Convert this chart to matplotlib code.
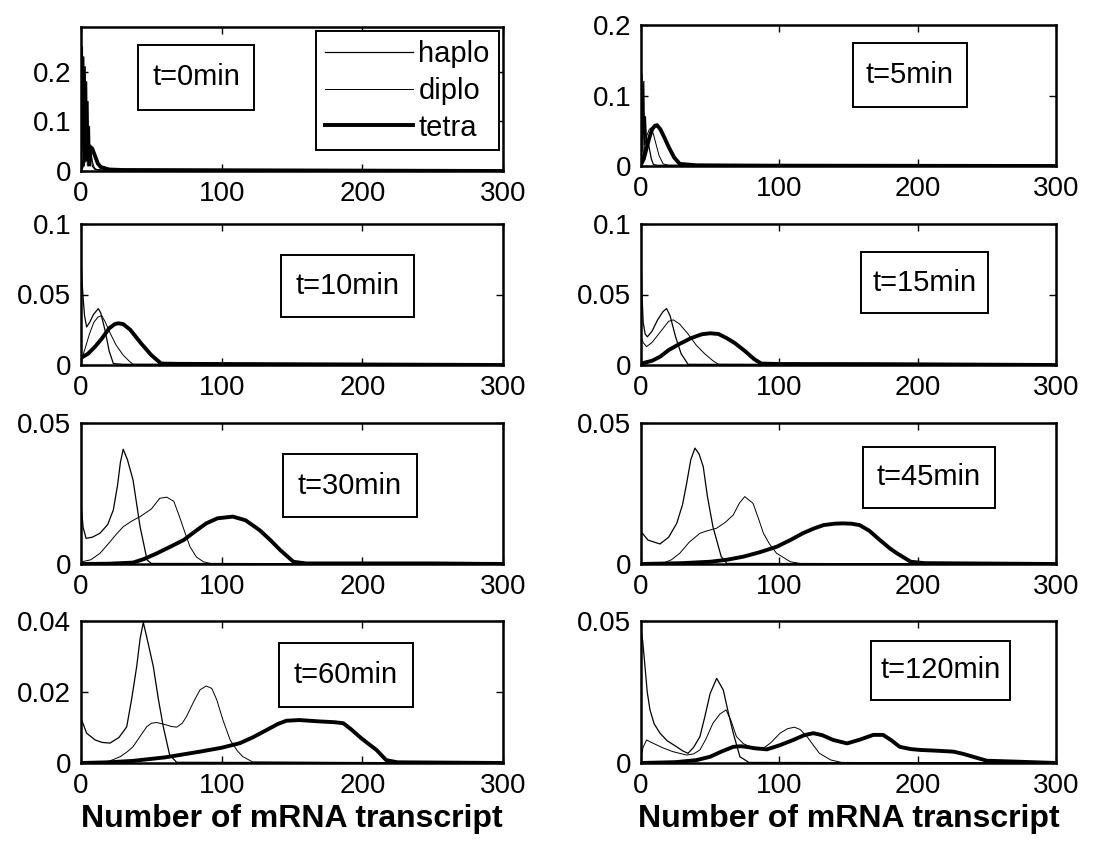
import matplotlib
matplotlib.use("Agg")
import matplotlib.pyplot as plt
from matplotlib.patches import Rectangle

plt.rcParams['font.family'] = ['Liberation Sans', 'DejaVu Sans']

# mRNA copy-number distributions, one panel per time point
times = ['t=0min', 't=5min', 't=10min', 't=15min', 't=30min', 't=45min', 't=60min', 't=120min']
ylims = [0.29, 0.2, 0.1, 0.1, 0.05, 0.05, 0.04, 0.05]
yticks = [[0, 0.1, 0.2], [0, 0.1, 0.2], [0, 0.05, 0.1], [0, 0.05, 0.1],
          [0, 0.05], [0, 0.05], [0, 0.02, 0.04], [0, 0.05]]
ytick_labels = [['0', '0.1', '0.2'], ['0', '0.1', '0.2'], ['0', '0.05', '0.1'], ['0', '0.05', '0.1'],
                ['0', '0.05'], ['0', '0.05'], ['0', '0.02', '0.04'], ['0', '0.05']]
xticks = [0, 100, 200, 300]

# t = 0 min
t0_haplo_x = [0, 0.5, 1, 1.5, 2, 2.5, 3, 3.5, 4, 4.5, 5, 5.5, 6, 6.5, 7, 8, 10, 15, 30, 300]
t0_haplo_y = [0.27, 0.05, 0.25, 0.04, 0.23, 0.03, 0.21, 0.02, 0.18, 0.02, 0.14, 0.01, 0.09, 0.01, 0.04, 0.01, 0.003, 0.002, 0.002, 0]
t0_diplo_x = [0, 1, 1.5, 2, 2.5, 3, 3.5, 4, 4.5, 5, 5.5, 6, 7, 8, 9, 10, 12, 300]
t0_diplo_y = [0.02, 0.1, 0.01, 0.08, 0.01, 0.09, 0.02, 0.07, 0.01, 0.08, 0.02, 0.05, 0.04, 0.02, 0.01, 0.005, 0.002, 0]
t0_tetra_x = [0, 2, 4, 6, 8, 10, 12, 14, 20, 30, 300]
t0_tetra_y = [0.005, 0.02, 0.04, 0.05, 0.045, 0.03, 0.015, 0.008, 0.003, 0.002, 0]

# t = 5 min
t5_haplo_x = [0, 0.7, 1.4, 2, 2.6, 3.2, 4, 4.8, 6, 7.5, 9, 12, 300]
t5_haplo_y = [0.06, 0.13, 0.02, 0.12, 0.03, 0.07, 0.034, 0.037, 0.025, 0.01, 0.002, 0.001, 0]
t5_diplo_x = [0, 2, 4, 6, 7.2, 9, 11, 13, 16, 20, 300]
t5_diplo_y = [0.005, 0.02, 0.042, 0.052, 0.054, 0.045, 0.03, 0.015, 0.003, 0.001, 0]
t5_tetra_x = [0, 2, 4, 6, 8, 10, 11.6, 14, 17, 20, 24, 28, 40, 90, 300]
t5_tetra_y = [0.002, 0.01, 0.025, 0.04, 0.052, 0.057, 0.058, 0.052, 0.04, 0.027, 0.012, 0.003, 0.001, 0.0005, 0]

# t = 10 min
t10_haplo_x = [0, 0.7, 1.5, 2.5, 4, 6, 9, 12.3, 14, 17, 20, 23, 30, 300]
t10_haplo_y = [0.077, 0.06, 0.048, 0.035, 0.027, 0.03, 0.036, 0.04, 0.037, 0.025, 0.01, 0.001, 0.0005, 0]
t10_diplo_x = [0, 3, 6, 9, 12, 14.7, 17, 21, 25, 30, 34, 37, 300]
t10_diplo_y = [0.003, 0.012, 0.022, 0.03, 0.034, 0.035, 0.031, 0.022, 0.014, 0.007, 0.003, 0.0005, 0]
t10_tetra_x = [0, 5, 10, 15, 20, 24, 26.5, 30, 35, 43, 50, 57, 70, 130, 300]
t10_tetra_y = [0.005, 0.008, 0.013, 0.019, 0.026, 0.029, 0.0296, 0.029, 0.025, 0.015, 0.007, 0.001, 0.0008, 0.0006, 0]

# t = 15 min
t15_haplo_x = [0, 0.8, 1.6, 3, 4.6, 8, 12, 16, 18.5, 21, 25, 29, 34, 300]
t15_haplo_y = [0.079, 0.048, 0.03, 0.022, 0.02, 0.024, 0.032, 0.038, 0.040, 0.035, 0.02, 0.008, 0.0005, 0]
t15_diplo_x = [0, 1.5, 4, 8, 12, 16, 20, 23.4, 28, 34, 40, 46, 52, 56, 300]
t15_diplo_y = [0.02, 0.016, 0.013, 0.016, 0.021, 0.026, 0.031, 0.032, 0.029, 0.022, 0.014, 0.008, 0.003, 0.0005, 0]
t15_tetra_x = [0, 8, 14, 20, 28, 36, 44, 50, 56, 62, 68, 75, 82, 87, 100, 170, 300]
t15_tetra_y = [0.001, 0.003, 0.006, 0.0106, 0.015, 0.019, 0.0218, 0.0225, 0.022, 0.019, 0.0154, 0.01, 0.004, 0.001, 0.0007, 0.0006, 0]

# t = 30 min
t30_haplo_x = [0, 1.5, 3.6, 8, 13.5, 19, 23, 26, 28, 30, 33, 37, 42, 47, 50, 300]
t30_haplo_y = [0.0215, 0.013, 0.0091, 0.0095, 0.0109, 0.014, 0.0192, 0.028, 0.036, 0.0407, 0.037, 0.0298, 0.0132, 0.0014, 0.0002, 0]
t30_diplo_x = [0, 7, 13.5, 20, 25, 30, 36, 42, 50, 56, 61, 66, 70, 74, 77.5, 82, 87, 92, 300]
t30_diplo_y = [0.0007, 0.0015, 0.0038, 0.0075, 0.0105, 0.0132, 0.0152, 0.0168, 0.0195, 0.0233, 0.0237, 0.0222, 0.0168, 0.011, 0.0061, 0.0025, 0.0008, 0.0002, 0]
t30_tetra_x = [0, 20, 37, 45, 54, 63, 73, 81, 89, 97, 108, 117, 127, 135, 141.5, 151, 160, 250, 300]
t30_tetra_y = [0, 0.0001, 0.0005, 0.0018, 0.0038, 0.006, 0.0085, 0.0115, 0.0144, 0.0162, 0.0168, 0.0155, 0.012, 0.0083, 0.005, 0.0008, 0.0002, 0.0002, 0]

# t = 45 min
t45_haplo_x = [0, 5, 13.7, 20, 25.8, 30, 33, 36, 39, 42, 45, 48, 52, 58, 62, 300]
t45_haplo_y = [0.0115, 0.0085, 0.0071, 0.0095, 0.0144, 0.021, 0.0286, 0.037, 0.0411, 0.039, 0.0345, 0.024, 0.0132, 0.0026, 0.0002, 0]
t45_diplo_x = [0, 16, 22, 28, 35, 42.6, 48, 54.7, 61, 66.7, 71, 75, 81, 85, 88.5, 93, 98, 108, 115, 300]
t45_diplo_y = [0, 0.0003, 0.0015, 0.0038, 0.0078, 0.0109, 0.0118, 0.0127, 0.0148, 0.0174, 0.0215, 0.0239, 0.0215, 0.016, 0.0109, 0.007, 0.0038, 0.0008, 0.0002, 0]
t45_tetra_x = [0, 30, 50, 62, 74, 86, 98, 108, 117, 125, 132, 140, 146, 152, 158, 165, 172.7, 180, 185, 195, 205, 300]
t45_tetra_y = [0, 0.0003, 0.0008, 0.0015, 0.0026, 0.0042, 0.0061, 0.0085, 0.0109, 0.0126, 0.0138, 0.0143, 0.0144, 0.0143, 0.0138, 0.0118, 0.0085, 0.0055, 0.0038, 0.0008, 0.0003, 0]

# t = 60 min
t60_haplo_x = [0, 4, 10, 15, 20.6, 27, 32.5, 36, 39.6, 42, 44.3, 47, 51.4, 55, 58.5, 63, 68, 300]
t60_haplo_y = [0.0126, 0.0084, 0.0065, 0.0058, 0.0056, 0.0072, 0.0102, 0.018, 0.0272, 0.035, 0.0396, 0.035, 0.0272, 0.018, 0.0102, 0.0023, 0.0002, 0]
t60_diplo_x = [0, 20, 28, 33, 37, 42, 46.7, 50, 53.8, 57, 61, 64, 68, 72, 75, 80, 84.6, 89, 93, 96.5, 101, 106, 111, 115, 122, 300]
t60_diplo_y = [0, 0.0005, 0.0018, 0.0032, 0.0046, 0.0075, 0.0102, 0.0112, 0.0114, 0.0111, 0.0107, 0.0103, 0.0101, 0.0112, 0.0131, 0.0172, 0.0206, 0.0217, 0.021, 0.0178, 0.012, 0.0065, 0.0035, 0.0018, 0.0003, 0]
t60_tetra_x = [0, 20, 37, 60, 84.6, 100, 113, 122, 132, 140, 146, 155, 170, 180, 186.5, 192, 198, 204, 210, 217, 225, 300]
t60_tetra_y = [0, 0.0002, 0.0006, 0.0016, 0.0032, 0.0043, 0.0056, 0.0072, 0.0093, 0.011, 0.0119, 0.0121, 0.0117, 0.0115, 0.0112, 0.0095, 0.0074, 0.0055, 0.0037, 0.0008, 0.0002, 0]

# t = 120 min
t120_haplo_x = [0, 1.2, 2.9, 4.5, 6.5, 9.5, 13.7, 19, 25.8, 30, 34, 38, 42.6, 46, 50, 54.7, 59.5, 63, 66.7, 71.5, 78, 300]
t120_haplo_y = [0.0474, 0.043, 0.0339, 0.025, 0.0187, 0.0138, 0.0105, 0.0078, 0.0057, 0.0043, 0.0034, 0.0055, 0.0093, 0.016, 0.0245, 0.0298, 0.0257, 0.018, 0.0105, 0.0022, 0.0002, 0]
t120_diplo_x = [0, 1.5, 4, 9, 16, 23, 28, 33, 38, 42.6, 47, 52, 57, 61.5, 65, 69, 74, 79, 84, 88.5, 94, 100.5, 106, 111, 115, 120, 125, 129, 137, 145, 300]
t120_diplo_y = [0.0022, 0.0055, 0.0081, 0.0069, 0.0053, 0.004, 0.0034, 0.0028, 0.0032, 0.0046, 0.0085, 0.014, 0.0172, 0.0187, 0.015, 0.0093, 0.0068, 0.0057, 0.0053, 0.0052, 0.0072, 0.0105, 0.0121, 0.0126, 0.0118, 0.0093, 0.006, 0.0034, 0.0011, 0.0002, 0]
t120_tetra_x = [0, 25, 40, 50, 58, 66.7, 72, 76, 82, 91, 100, 110, 118, 124.6, 131, 139, 149, 158, 168, 175, 181, 187, 195, 201.7, 215, 225.8, 233, 240, 250, 270, 300]
t120_tetra_y = [0, 0.0003, 0.001, 0.0022, 0.004, 0.0057, 0.0059, 0.0057, 0.0052, 0.0048, 0.0062, 0.0081, 0.0098, 0.0105, 0.0098, 0.0081, 0.0069, 0.0082, 0.0099, 0.0099, 0.008, 0.0057, 0.0049, 0.0046, 0.0043, 0.004, 0.0032, 0.0022, 0.0008, 0.0005, 0]

panels = [
    (t0_haplo_x, t0_haplo_y, t0_diplo_x, t0_diplo_y, t0_tetra_x, t0_tetra_y),
    (t5_haplo_x, t5_haplo_y, t5_diplo_x, t5_diplo_y, t5_tetra_x, t5_tetra_y),
    (t10_haplo_x, t10_haplo_y, t10_diplo_x, t10_diplo_y, t10_tetra_x, t10_tetra_y),
    (t15_haplo_x, t15_haplo_y, t15_diplo_x, t15_diplo_y, t15_tetra_x, t15_tetra_y),
    (t30_haplo_x, t30_haplo_y, t30_diplo_x, t30_diplo_y, t30_tetra_x, t30_tetra_y),
    (t45_haplo_x, t45_haplo_y, t45_diplo_x, t45_diplo_y, t45_tetra_x, t45_tetra_y),
    (t60_haplo_x, t60_haplo_y, t60_diplo_x, t60_diplo_y, t60_tetra_x, t60_tetra_y),
    (t120_haplo_x, t120_haplo_y, t120_diplo_x, t120_diplo_y, t120_tetra_x, t120_tetra_y),
]

# axes rectangles in pixels: (left, width) per column, (top, bottom) per row
W, H = 1098, 843
col_left = [(81, 422), (641, 415)]
row_top = [[(27, 171), (25, 166)], [(224, 365), (224, 365)], [(423, 564), (423, 564)], [(621, 763), (621, 763)]]

# time label boxes, axes fractions (x0, x1, y0, y1)
boxes = [(0.135, 0.41, 0.424, 0.875), (0.51, 0.785, 0.42, 0.872),
         (0.474, 0.79, 0.34, 0.78), (0.53, 0.836, 0.37, 0.80),
         (0.479, 0.796, 0.333, 0.78), (0.535, 0.853, 0.40, 0.83),
         (0.469, 0.787, 0.394, 0.845), (0.554, 0.889, 0.444, 0.86)]

fig = plt.figure(figsize=(W / 100, H / 100), dpi=100)

for i, (hx, hy, dx, dy, tx, ty) in enumerate(panels):
    r, c = divmod(i, 2)
    left, width = col_left[c]
    top, bottom = row_top[r][c]
    ax = fig.add_axes([left / W, 1 - bottom / H, width / W, (bottom - top) / H])

    ax.plot(hx, hy, color='black', lw=0.9, label='haplo')
    ax.plot(dx, dy, color='black', lw=0.7, label='diplo')
    ax.plot(tx, ty, color='black', lw=2.8, label='tetra')

    ax.set_xlim(0, 300)
    ax.set_ylim(0, ylims[i])
    ax.set_xticks(xticks)
    ax.set_xticklabels([str(v) for v in xticks])
    ax.set_yticks(yticks[i])
    ax.set_yticklabels(ytick_labels[i])
    ax.tick_params(direction='in', top=True, right=True, length=5, width=1,
                   labelsize=20, pad=7)
    for s in ax.spines.values():
        s.set_linewidth(1.8)

    x0, x1, y0, y1 = boxes[i]
    ax.add_patch(Rectangle((x0, y0), x1 - x0, y1 - y0, transform=ax.transAxes,
                           fill=False, lw=1.4, ec='black', zorder=5))
    ax.text((x0 + x1) / 2, (y0 + y1) / 2, times[i], transform=ax.transAxes,
            ha='center', va='center', fontsize=21, zorder=6)

    if i == 0:
        leg = ax.legend(loc='upper right', fontsize=21, frameon=True, fancybox=False,
                        edgecolor='black', framealpha=1, handlelength=3.0,
                        handletextpad=0.2, labelspacing=0.3, borderpad=0.3,
                        borderaxespad=0.15)
        leg.get_frame().set_linewidth(1.4)

    if r == 3:
        ax.set_xlabel('Number of mRNA transcript', fontsize=23, fontweight='bold', labelpad=4)

fig.savefig('out.png', dpi=100)
